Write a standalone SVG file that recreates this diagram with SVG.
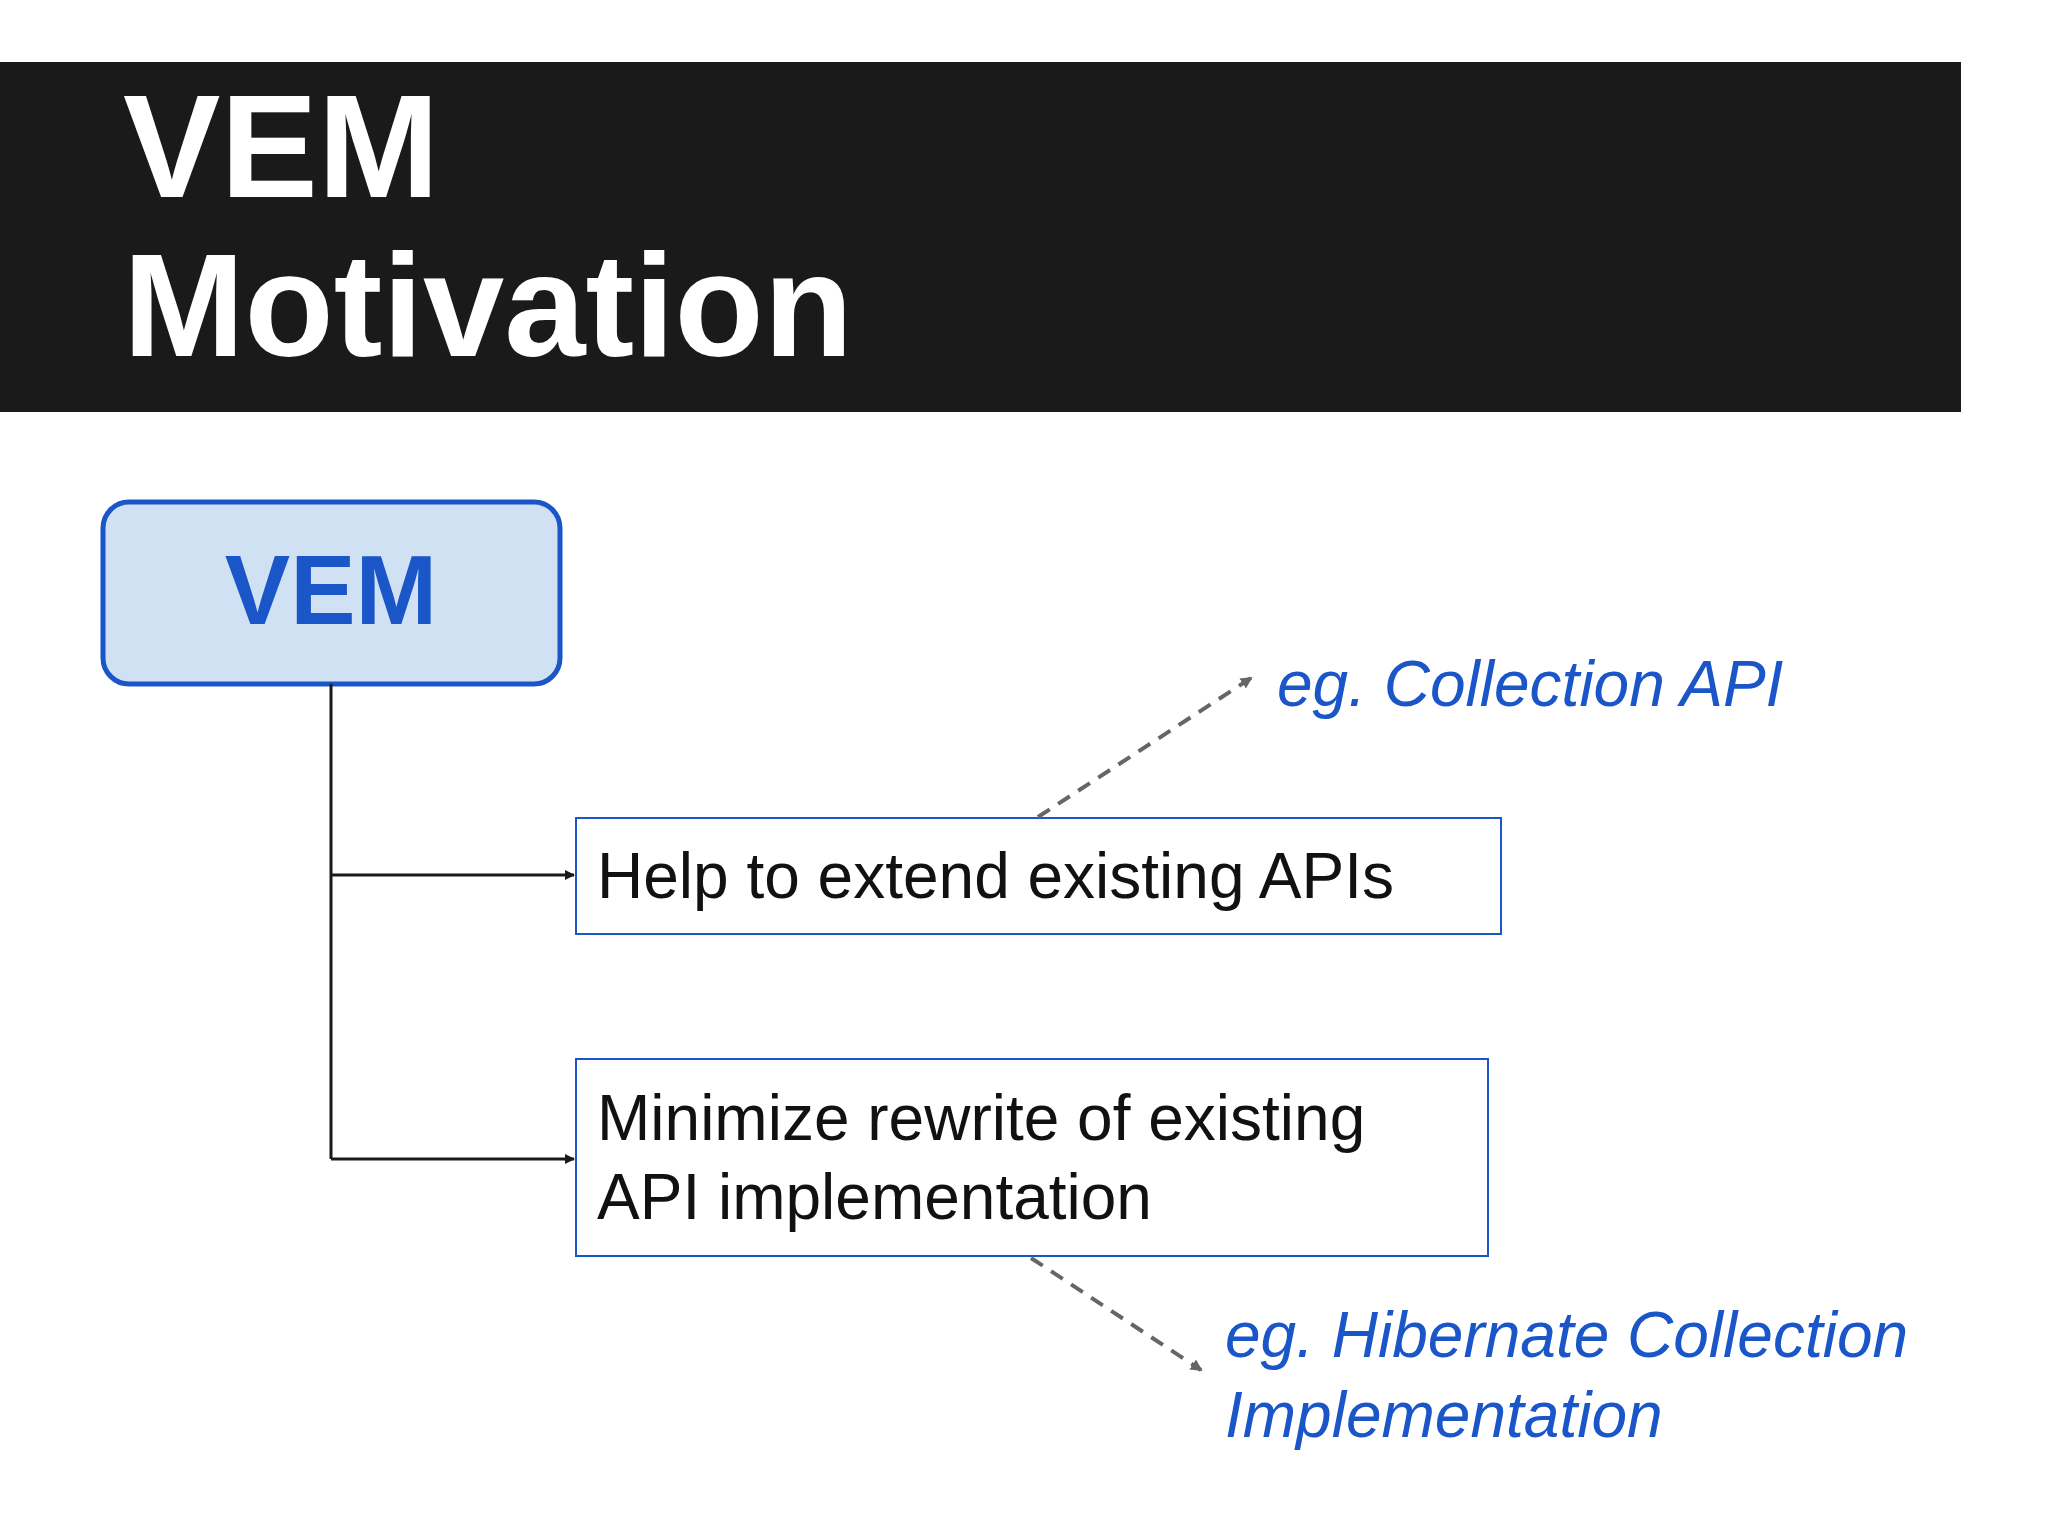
<svg xmlns="http://www.w3.org/2000/svg" width="2048" height="1536" viewBox="0 0 2048 1536">
<defs>
<marker id="ah" markerWidth="10" markerHeight="10" refX="9" refY="5" orient="auto" markerUnits="userSpaceOnUse" viewBox="0 0 10 10"><path d="M0,0 L10,5 L0,10 z" fill="#1a1a1a"/></marker>
<marker id="ahg" markerWidth="12" markerHeight="12" refX="10" refY="6" orient="auto" markerUnits="userSpaceOnUse" viewBox="0 0 12 12"><path d="M0,0 L12,6 L0,12 z" fill="#666"/></marker>
</defs>
<style>
text{font-family:"Liberation Sans",Arial,sans-serif}
.t{fill:#fff;font-weight:bold;font-size:146px}
.b{fill:#111;font-size:64px}
.e{fill:#1a56c8;font-size:64px;font-style:italic}
.c{stroke:#1a1a1a;stroke-width:3;fill:none}
.d{stroke:#666;stroke-width:4;stroke-dasharray:14 10;fill:none}
</style>
<rect width="2048" height="1536" fill="#fff"/>
<g id="title">
<rect x="0" y="62" width="1961" height="350" fill="#1a1a1a"/>
<text class="t" x="123" y="197">VEM</text>
<text class="t" x="123" y="356">Motivation</text>
</g>
<g id="vem">
<rect x="103" y="502" width="457" height="182" rx="26" fill="#cfe1f3" stroke="#1a56c8" stroke-width="5"/>
<text x="331" y="624" text-anchor="middle" fill="#1a56c8" font-weight="bold" font-size="98">VEM</text>
</g>
<g id="box1">
<rect x="576" y="818" width="925" height="116" fill="#fff" stroke="#1a56c8" stroke-width="2"/>
<text class="b" x="597" y="898">Help to extend existing APIs</text>
</g>
<g id="box2">
<rect x="576" y="1059" width="912" height="197" fill="#fff" stroke="#1a56c8" stroke-width="2"/>
<text class="b" x="597" y="1140">Minimize rewrite of existing</text>
<text class="b" x="597" y="1219">API implementation</text>
</g>
<g id="note1"><text class="e" x="1277" y="706">eg. Collection API</text></g>
<g id="note2">
<text class="e" x="1225" y="1357">eg. Hibernate Collection</text>
<text class="e" x="1225" y="1437">Implementation</text>
</g>
<g id="connectors">
<path class="c" d="M331,684 V1159"/>
<path class="c" d="M331,875 H574" marker-end="url(#ah)"/>
<path class="c" d="M331,1159 H574" marker-end="url(#ah)"/>
<path class="d" d="M1038,817 L1251,678" marker-end="url(#ahg)"/>
<path class="d" d="M1031,1258 L1201,1370" marker-end="url(#ahg)"/>
</g>
</svg>
